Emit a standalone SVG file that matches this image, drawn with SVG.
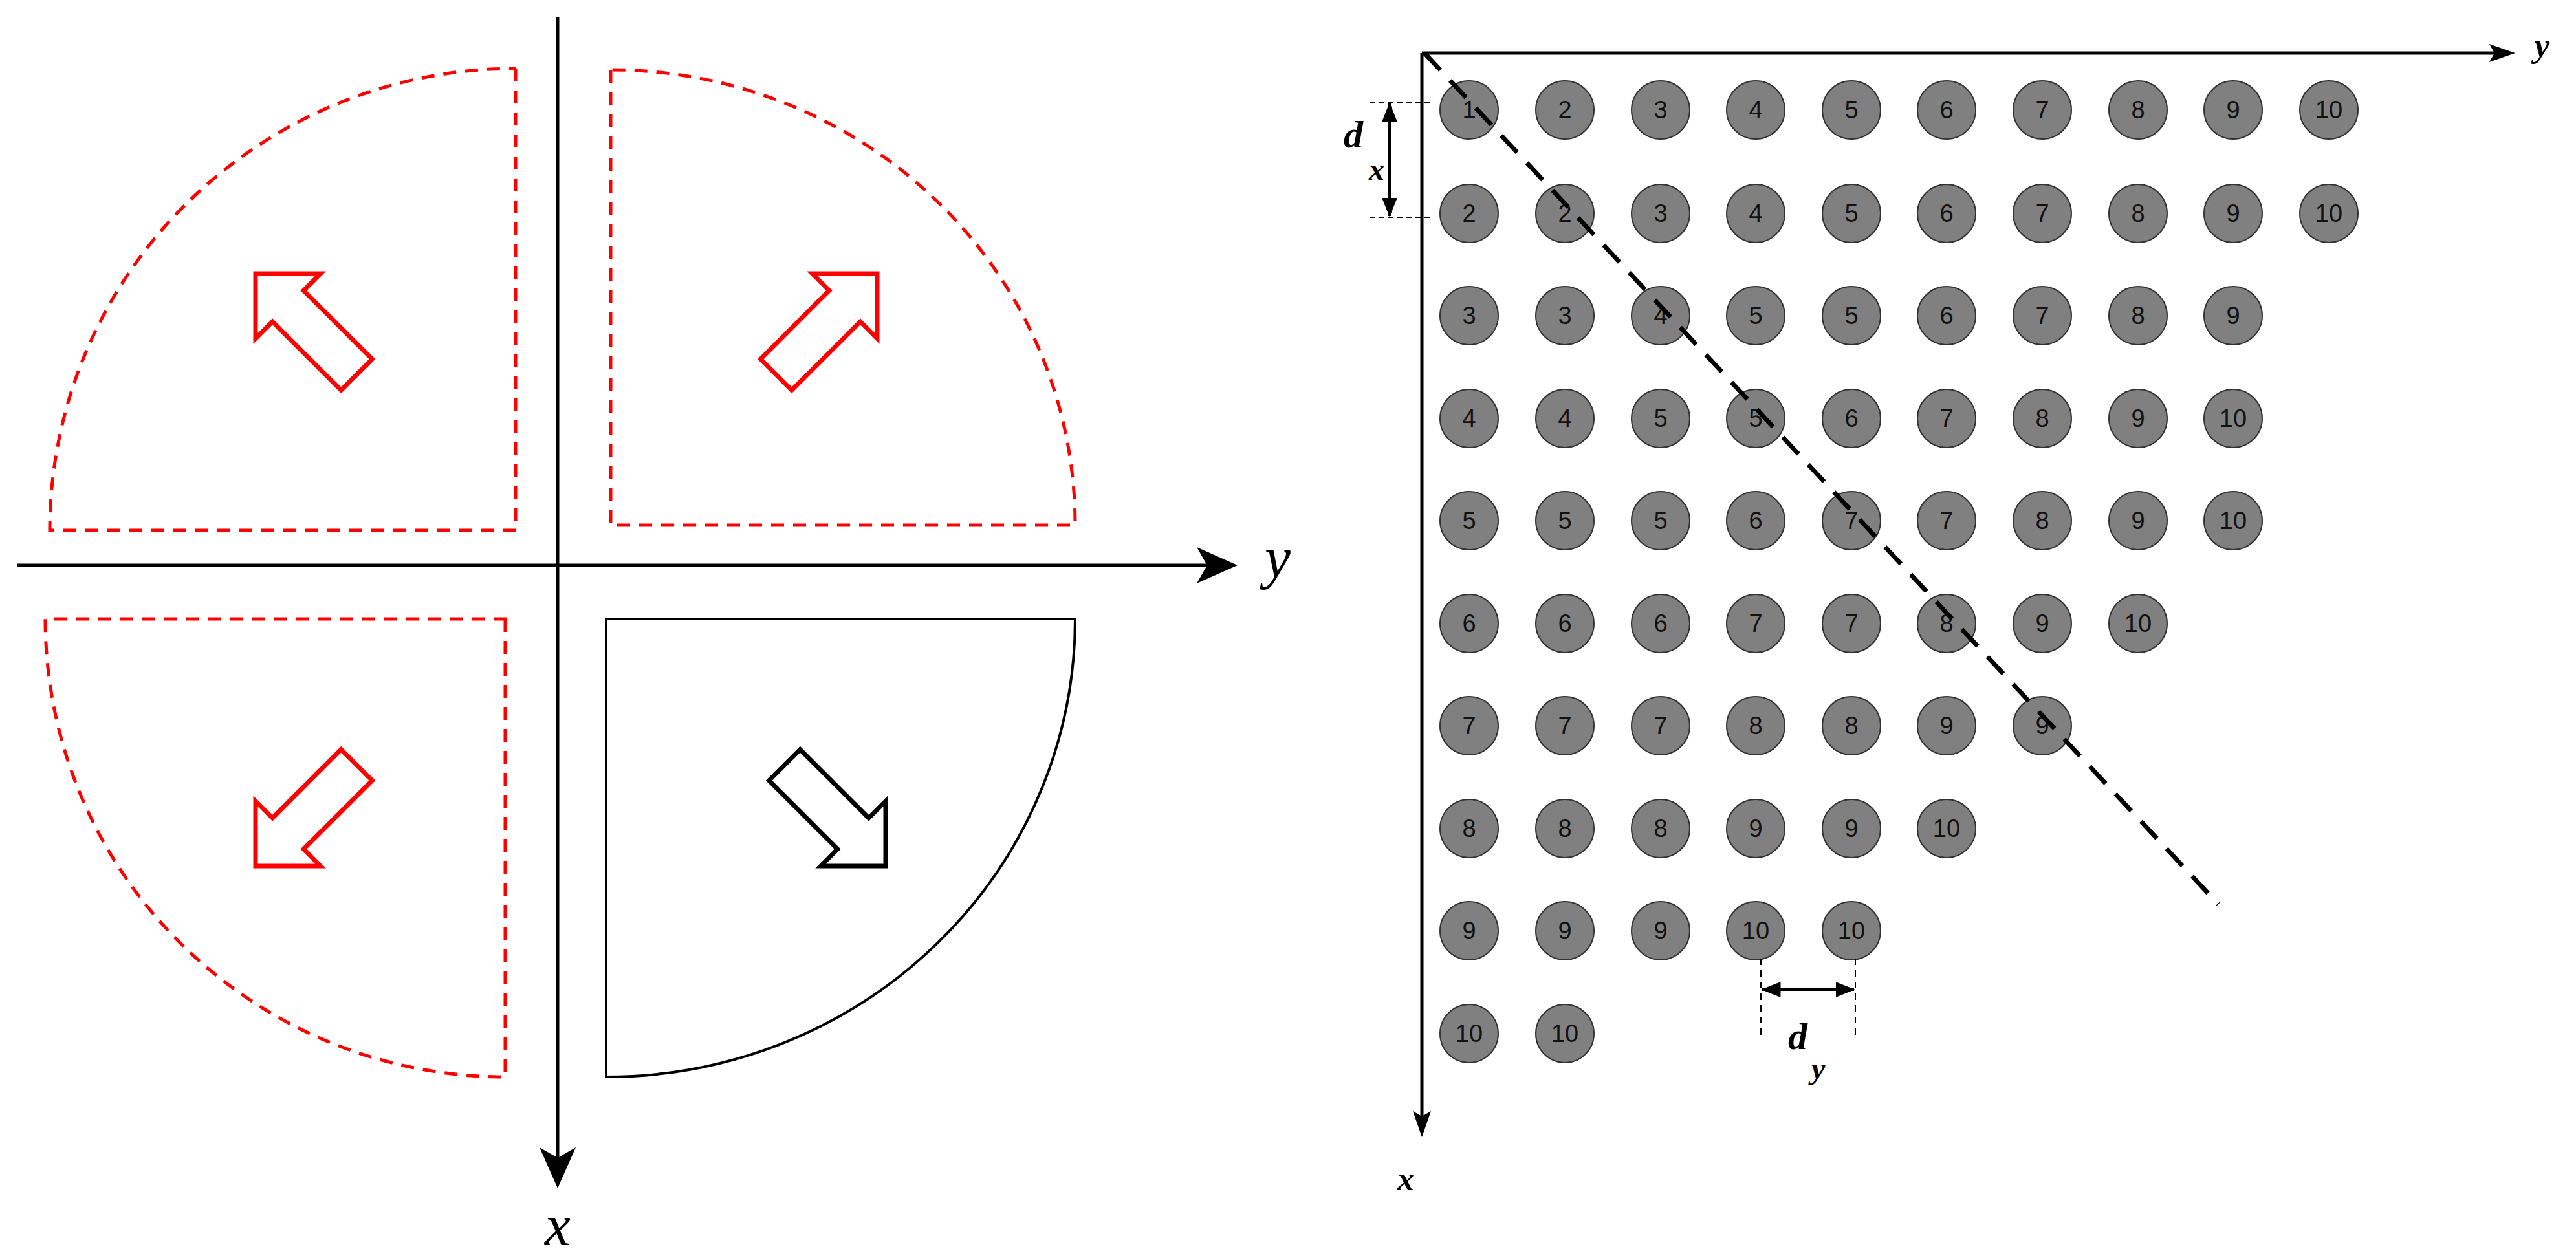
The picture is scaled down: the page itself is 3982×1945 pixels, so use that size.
<svg xmlns="http://www.w3.org/2000/svg" width="3982" height="1945" viewBox="0 0 3982 1945">
<style>
.red{fill:none;stroke:#ff0000;stroke-width:5;stroke-dasharray:20 14}
.ax{stroke:#000;stroke-width:5;fill:none}
.ar{stroke-width:7;fill:#fff}
.c{fill:#808080;stroke:#333;stroke-width:2}
.n{font-family:"Liberation Sans",Arial,sans-serif;font-size:38px;fill:#111;text-anchor:middle}
.lab{font-family:"Liberation Serif","Times New Roman",serif;font-style:italic}
</style>
<defs>
<marker id="ah" viewBox="0 0 20 16" refX="19" refY="8" markerWidth="9" markerHeight="7" markerUnits="userSpaceOnUse" orient="auto-start-reverse" style="overflow:visible">
<path d="M0,0 L20,8 L0,16 L5,8 Z" fill="#000" transform="scale(3)"/>
</marker>
<marker id="ah2" viewBox="0 0 20 16" refX="19" refY="8" markerWidth="30" markerHeight="24" markerUnits="userSpaceOnUse" orient="auto-start-reverse">
<path d="M0,0 L20,8 L0,16 Z" fill="#000"/>
</marker>
<path id="arr" d="M0,0 L-71,-71 L-71,-34 L-221,-34 L-221,34 L-71,34 L-71,71 Z"/>
</defs>
<g id="left-panel">
<g id="q-tl"><path class="red" d="M797,106 L797,820 L77,820 A720,714 0 0 1 797,106"/></g>
<g id="q-tr"><path class="red" d="M944,108 L944,812 L1662,812 A718,704 0 0 0 944,108"/></g>
<g id="q-bl"><path class="red" d="M781,957 L781,1665 A711,708 0 0 1 70,957 Z"/></g>
<g id="q-br"><path d="M937,957 L1662,957 A725,708 0 0 1 937,1665 Z" fill="none" stroke="#000" stroke-width="4"/></g>
<use href="#arr" class="ar" stroke="#ff0000" transform="translate(395,423) rotate(225)"/>
<use href="#arr" class="ar" stroke="#ff0000" transform="translate(1356,423) rotate(-45)"/>
<use href="#arr" class="ar" stroke="#ff0000" transform="translate(395,1339) rotate(135)"/>
<use href="#arr" class="ar" stroke="#000" transform="translate(1369,1339) rotate(45)"/>
<g id="axes-left">
<line class="ax" x1="26" y1="874" x2="1905" y2="874"/>
<path d="M1913,874 L1850,846 L1866,874 L1850,902 Z"/>
<line class="ax" x1="862" y1="26" x2="862" y2="1830"/>
<path d="M862,1837 L834,1774 L862,1790 L890,1774 Z"/>
</g>
<text class="lab" x="1955" y="893" font-size="90">y</text>
<text class="lab" x="842" y="1925" font-size="90">x</text>
</g>
<g id="right-panel">
<g id="connectors">
<line x1="2198" y1="82" x2="3870" y2="82" stroke="#000" stroke-width="5"/>
<path d="M3888,82 L3848,68 L3856,82 L3848,96 Z"/>
<line x1="2198" y1="82" x2="2198" y2="1740" stroke="#000" stroke-width="5"/>
<path d="M2198,1758 L2184,1718 L2198,1726 L2212,1718 Z"/>
</g>
<g id="circles">
<g id="r1"><circle class="c" cx="2271" cy="170" r="45"/><circle class="c" cx="2419" cy="170" r="45"/><circle class="c" cx="2567" cy="170" r="45"/><circle class="c" cx="2714" cy="170" r="45"/><circle class="c" cx="2862" cy="170" r="45"/><circle class="c" cx="3009" cy="170" r="45"/><circle class="c" cx="3157" cy="170" r="45"/><circle class="c" cx="3305" cy="170" r="45"/><circle class="c" cx="3452" cy="170" r="45"/><circle class="c" cx="3600" cy="170" r="45"/>
<text class="n" x="2271" y="183">1</text><text class="n" x="2419" y="183">2</text><text class="n" x="2567" y="183">3</text><text class="n" x="2714" y="183">4</text><text class="n" x="2862" y="183">5</text><text class="n" x="3009" y="183">6</text><text class="n" x="3157" y="183">7</text><text class="n" x="3305" y="183">8</text><text class="n" x="3452" y="183">9</text><text class="n" x="3600" y="183">10</text></g>
<g id="r2"><circle class="c" cx="2271" cy="330" r="45"/><circle class="c" cx="2419" cy="330" r="45"/><circle class="c" cx="2567" cy="330" r="45"/><circle class="c" cx="2714" cy="330" r="45"/><circle class="c" cx="2862" cy="330" r="45"/><circle class="c" cx="3009" cy="330" r="45"/><circle class="c" cx="3157" cy="330" r="45"/><circle class="c" cx="3305" cy="330" r="45"/><circle class="c" cx="3452" cy="330" r="45"/><circle class="c" cx="3600" cy="330" r="45"/>
<text class="n" x="2271" y="343">2</text><text class="n" x="2419" y="343">2</text><text class="n" x="2567" y="343">3</text><text class="n" x="2714" y="343">4</text><text class="n" x="2862" y="343">5</text><text class="n" x="3009" y="343">6</text><text class="n" x="3157" y="343">7</text><text class="n" x="3305" y="343">8</text><text class="n" x="3452" y="343">9</text><text class="n" x="3600" y="343">10</text></g>
<g id="r3"><circle class="c" cx="2271" cy="488" r="45"/><circle class="c" cx="2419" cy="488" r="45"/><circle class="c" cx="2567" cy="488" r="45"/><circle class="c" cx="2714" cy="488" r="45"/><circle class="c" cx="2862" cy="488" r="45"/><circle class="c" cx="3009" cy="488" r="45"/><circle class="c" cx="3157" cy="488" r="45"/><circle class="c" cx="3305" cy="488" r="45"/><circle class="c" cx="3452" cy="488" r="45"/>
<text class="n" x="2271" y="501">3</text><text class="n" x="2419" y="501">3</text><text class="n" x="2567" y="501">4</text><text class="n" x="2714" y="501">5</text><text class="n" x="2862" y="501">5</text><text class="n" x="3009" y="501">6</text><text class="n" x="3157" y="501">7</text><text class="n" x="3305" y="501">8</text><text class="n" x="3452" y="501">9</text></g>
<g id="r4"><circle class="c" cx="2271" cy="647" r="45"/><circle class="c" cx="2419" cy="647" r="45"/><circle class="c" cx="2567" cy="647" r="45"/><circle class="c" cx="2714" cy="647" r="45"/><circle class="c" cx="2862" cy="647" r="45"/><circle class="c" cx="3009" cy="647" r="45"/><circle class="c" cx="3157" cy="647" r="45"/><circle class="c" cx="3305" cy="647" r="45"/><circle class="c" cx="3452" cy="647" r="45"/>
<text class="n" x="2271" y="660">4</text><text class="n" x="2419" y="660">4</text><text class="n" x="2567" y="660">5</text><text class="n" x="2714" y="660">5</text><text class="n" x="2862" y="660">6</text><text class="n" x="3009" y="660">7</text><text class="n" x="3157" y="660">8</text><text class="n" x="3305" y="660">9</text><text class="n" x="3452" y="660">10</text></g>
<g id="r5"><circle class="c" cx="2271" cy="805" r="45"/><circle class="c" cx="2419" cy="805" r="45"/><circle class="c" cx="2567" cy="805" r="45"/><circle class="c" cx="2714" cy="805" r="45"/><circle class="c" cx="2862" cy="805" r="45"/><circle class="c" cx="3009" cy="805" r="45"/><circle class="c" cx="3157" cy="805" r="45"/><circle class="c" cx="3305" cy="805" r="45"/><circle class="c" cx="3452" cy="805" r="45"/>
<text class="n" x="2271" y="818">5</text><text class="n" x="2419" y="818">5</text><text class="n" x="2567" y="818">5</text><text class="n" x="2714" y="818">6</text><text class="n" x="2862" y="818">7</text><text class="n" x="3009" y="818">7</text><text class="n" x="3157" y="818">8</text><text class="n" x="3305" y="818">9</text><text class="n" x="3452" y="818">10</text></g>
<g id="r6"><circle class="c" cx="2271" cy="964" r="45"/><circle class="c" cx="2419" cy="964" r="45"/><circle class="c" cx="2567" cy="964" r="45"/><circle class="c" cx="2714" cy="964" r="45"/><circle class="c" cx="2862" cy="964" r="45"/><circle class="c" cx="3009" cy="964" r="45"/><circle class="c" cx="3157" cy="964" r="45"/><circle class="c" cx="3305" cy="964" r="45"/>
<text class="n" x="2271" y="977">6</text><text class="n" x="2419" y="977">6</text><text class="n" x="2567" y="977">6</text><text class="n" x="2714" y="977">7</text><text class="n" x="2862" y="977">7</text><text class="n" x="3009" y="977">8</text><text class="n" x="3157" y="977">9</text><text class="n" x="3305" y="977">10</text></g>
<g id="r7"><circle class="c" cx="2271" cy="1122" r="45"/><circle class="c" cx="2419" cy="1122" r="45"/><circle class="c" cx="2567" cy="1122" r="45"/><circle class="c" cx="2714" cy="1122" r="45"/><circle class="c" cx="2862" cy="1122" r="45"/><circle class="c" cx="3009" cy="1122" r="45"/><circle class="c" cx="3157" cy="1122" r="45"/>
<text class="n" x="2271" y="1135">7</text><text class="n" x="2419" y="1135">7</text><text class="n" x="2567" y="1135">7</text><text class="n" x="2714" y="1135">8</text><text class="n" x="2862" y="1135">8</text><text class="n" x="3009" y="1135">9</text><text class="n" x="3157" y="1135">9</text></g>
<g id="r8"><circle class="c" cx="2271" cy="1281" r="45"/><circle class="c" cx="2419" cy="1281" r="45"/><circle class="c" cx="2567" cy="1281" r="45"/><circle class="c" cx="2714" cy="1281" r="45"/><circle class="c" cx="2862" cy="1281" r="45"/><circle class="c" cx="3009" cy="1281" r="45"/>
<text class="n" x="2271" y="1294">8</text><text class="n" x="2419" y="1294">8</text><text class="n" x="2567" y="1294">8</text><text class="n" x="2714" y="1294">9</text><text class="n" x="2862" y="1294">9</text><text class="n" x="3009" y="1294">10</text></g>
<g id="r9"><circle class="c" cx="2271" cy="1439" r="45"/><circle class="c" cx="2419" cy="1439" r="45"/><circle class="c" cx="2567" cy="1439" r="45"/><circle class="c" cx="2714" cy="1439" r="45"/><circle class="c" cx="2862" cy="1439" r="45"/>
<text class="n" x="2271" y="1452">9</text><text class="n" x="2419" y="1452">9</text><text class="n" x="2567" y="1452">9</text><text class="n" x="2714" y="1452">10</text><text class="n" x="2862" y="1452">10</text></g>
<g id="r10"><circle class="c" cx="2271" cy="1598" r="45"/><circle class="c" cx="2419" cy="1598" r="45"/>
<text class="n" x="2271" y="1611">10</text><text class="n" x="2419" y="1611">10</text></g>
</g>
<g id="diag"><line x1="2202" y1="82" x2="3429" y2="1398" stroke="#000" stroke-width="7" stroke-dasharray="36 22"/></g>
<g id="dx">
<line x1="2118" y1="158" x2="2215" y2="158" stroke="#000" stroke-width="2" stroke-dasharray="8 6"/>
<line x1="2118" y1="336" x2="2215" y2="336" stroke="#000" stroke-width="2" stroke-dasharray="8 6"/>
<line x1="2148" y1="160" x2="2148" y2="334" stroke="#000" stroke-width="4" marker-start="url(#ah2)" marker-end="url(#ah2)"/>
<text class="lab" x="2077" y="228" font-size="60" font-weight="bold">d</text>
<text class="lab" x="2116" y="278" font-size="48" font-weight="bold">x</text>
</g>
<g id="dy">
<line x1="2722" y1="1482" x2="2722" y2="1602" stroke="#000" stroke-width="2" stroke-dasharray="10 8"/>
<line x1="2868" y1="1482" x2="2868" y2="1602" stroke="#000" stroke-width="2" stroke-dasharray="10 8"/>
<line x1="2724" y1="1530" x2="2866" y2="1530" stroke="#000" stroke-width="4" marker-start="url(#ah2)" marker-end="url(#ah2)"/>
<text class="lab" x="2764" y="1622" font-size="60" font-weight="bold">d</text>
<text class="lab" x="2800" y="1668" font-size="48" font-weight="bold">y</text>
</g>
<text class="lab" x="3918" y="88" font-size="52" font-weight="bold">y</text>
<text class="lab" x="2160" y="1840" font-size="52" font-weight="bold">x</text>
</g>
</svg>
